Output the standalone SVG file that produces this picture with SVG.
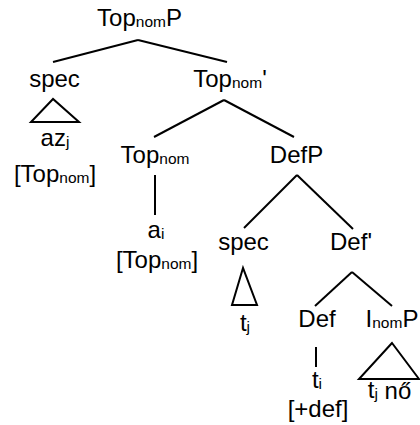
<svg xmlns="http://www.w3.org/2000/svg" width="420" height="425" viewBox="0 0 420 425">
<style>
text{font-family:"Liberation Sans",Arial,sans-serif;font-size:24px;fill:#000;text-anchor:middle}
.s{font-size:15.5px}
line,polygon{stroke:#000;stroke-width:2;fill:none}
</style>
<rect width="420" height="425" fill="#fff"/>
<g id="connectors">
<line x1="138" y1="40" x2="53" y2="62"/>
<line x1="138" y1="40" x2="227" y2="62"/>
<polygon points="53,99 31,122 79,122"/>
<line x1="224" y1="100" x2="154" y2="137"/>
<line x1="224" y1="100" x2="294" y2="137"/>
<line x1="155" y1="175" x2="155" y2="215"/>
<line x1="297" y1="175" x2="244" y2="228"/>
<line x1="297" y1="175" x2="353" y2="229"/>
<polygon points="243,268 232,305 257,305"/>
<line x1="352" y1="272" x2="315" y2="306"/>
<line x1="352" y1="272" x2="392" y2="306"/>
<line x1="316" y1="347" x2="316" y2="367"/>
<polygon points="392,343 359,379 419,379"/>
</g>
<g id="TopnomP"><text x="139.5" y="26">Top<tspan class="s" dy="1">nom</tspan><tspan dy="-1">P</tspan></text></g>
<g id="spec1"><text x="54.5" y="87">spec</text></g>
<g id="Topnom-bar"><text x="230" y="87">Top<tspan class="s" dy="1">nom</tspan><tspan dy="-1">'</tspan></text></g>
<g id="azj"><text x="55" y="146">az<tspan class="s" dy="1">j</tspan></text></g>
<g id="feat1"><text x="55" y="182">[Top<tspan class="s" dy="1">nom</tspan><tspan dy="-1">]</tspan></text></g>
<g id="Topnom"><text x="155" y="163">Top<tspan class="s" dy="1">nom</tspan></text></g>
<g id="DefP"><text x="296.5" y="163">DefP</text></g>
<g id="ai"><text x="156" y="238">a<tspan class="s" dy="1">i</tspan></text></g>
<g id="feat2"><text x="157" y="268">[Top<tspan class="s" dy="1">nom</tspan><tspan dy="-1">]</tspan></text></g>
<g id="spec2"><text x="243.5" y="250">spec</text></g>
<g id="Defbar"><text x="351" y="250">Def'</text></g>
<g id="tj"><text x="245" y="331">t<tspan class="s" dy="1">j</tspan></text></g>
<g id="Def"><text x="317" y="327">Def</text></g>
<g id="InomP"><text x="392" y="327">I<tspan class="s" dy="1">nom</tspan><tspan dy="-1">P</tspan></text></g>
<g id="ti"><text x="317" y="388">t<tspan class="s" dy="1">i</tspan></text></g>
<g id="feat3"><text x="318" y="417">[+def]</text></g>
<g id="tjno"><text x="389.5" y="398">t<tspan class="s" dy="1">j</tspan> nő</text></g>
</svg>
